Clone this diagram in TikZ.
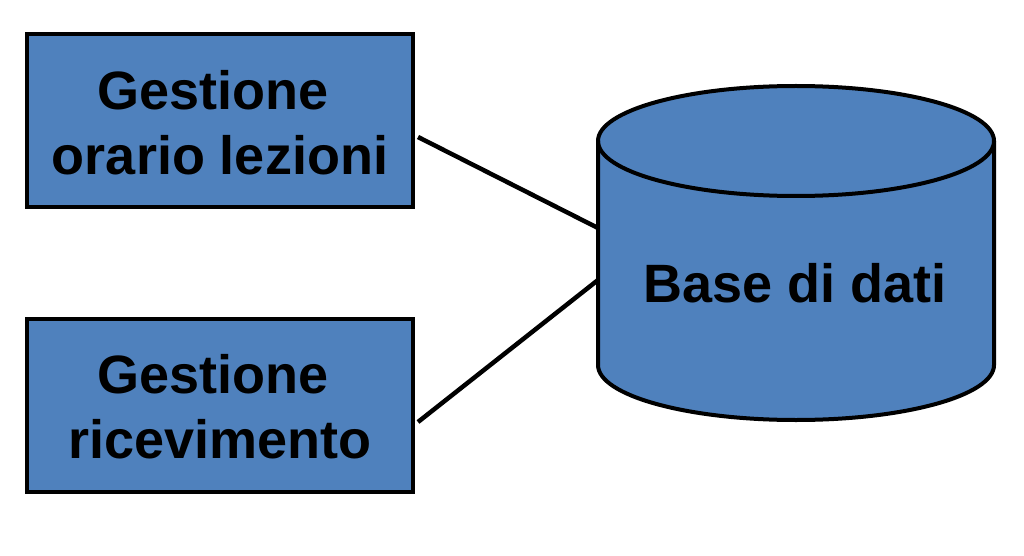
\documentclass[tikz,border=0pt]{standalone}
\usepackage{fontspec}
\setmainfont{Liberation Sans}
\definecolor{boxblue}{HTML}{4F81BD}
\begin{document}
\begin{tikzpicture}[x=1pt,y=1pt,
  box/.style={draw=black, line width=4pt, fill=boxblue, minimum width=386pt,
    minimum height=173pt, align=center, inner sep=0pt},
  boxtext/.style={font=\fontsize{54}{65}\selectfont\bfseries, align=center, inner sep=0pt},
  dbtext/.style={font=\fontsize{54}{60}\selectfont\bfseries, inner sep=0pt},
  cyl/.style={draw=black, line width=4pt, fill=boxblue, line join=round},
  conn/.style={draw=black, line width=4.5pt}]
\useasboundingbox (0,0) rectangle (1024,555);
% boxes
\node[box] (orario) at (220,434.5) {};
\node[box] (ricev) at (220,150) {};
\node[boxtext, anchor=base] (orariotxt) at (220,380) {Gestione\hspace*{14pt}\\orario lezioni};
\node[boxtext, anchor=base] (ricevtxt) at (220,97) {Gestione\hspace*{14pt}\\ricevimento};
% cylinder
\path[cyl] (598,414) -- (598,190)
  arc[start angle=180, end angle=360, x radius=198pt, y radius=55pt]
  -- (994,414)
  arc[start angle=0, end angle=180, x radius=198pt, y radius=55pt] -- cycle;
\draw[cyl, fill=none] (598,414)
  arc[start angle=180, end angle=360, x radius=198pt, y radius=55pt];
\node[dbtext, anchor=base] (db) at (795,253) {Base di dati};
% connector ends
\coordinate (o1) at (418,418);
\coordinate (d1) at (598,327);
\coordinate (r1) at (418,133);
\coordinate (d2) at (598,275);
\draw[conn] (o1) -- (d1);
\draw[conn] (r1) -- (d2);
\end{tikzpicture}
\end{document}
